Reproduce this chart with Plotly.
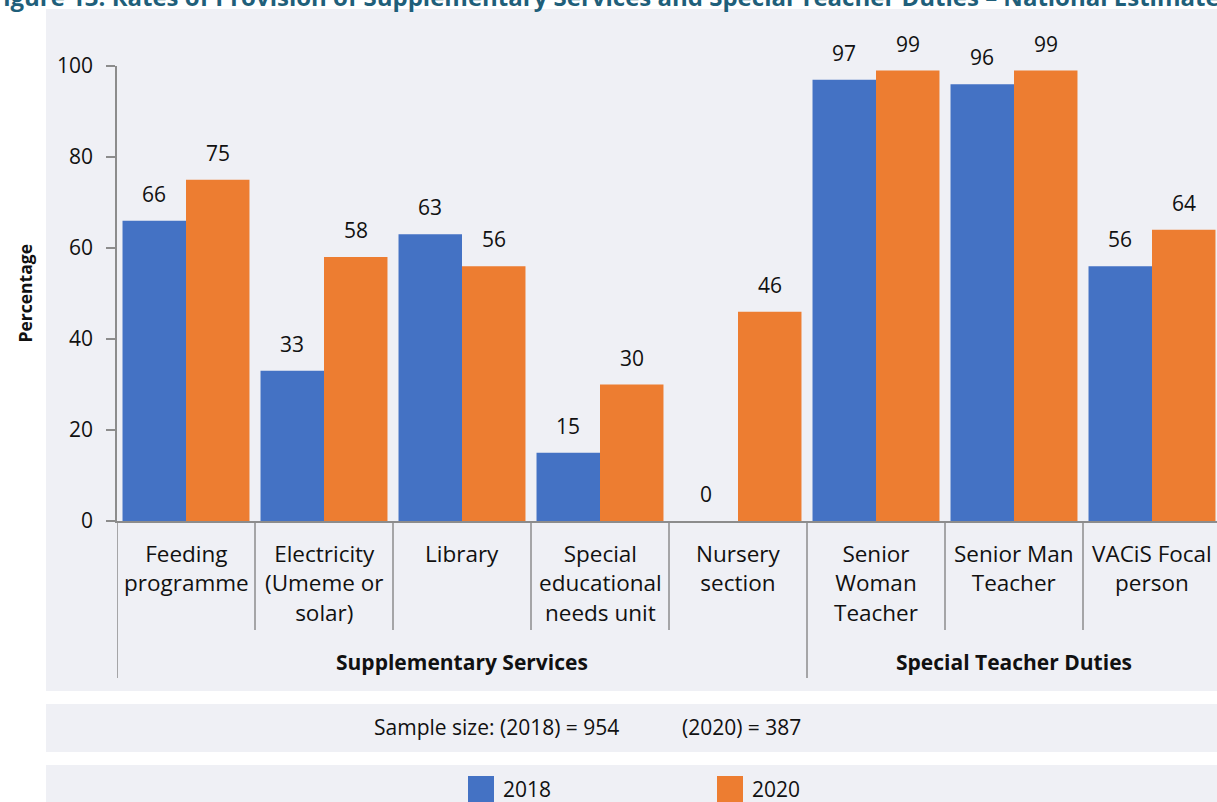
import plotly.graph_objects as go

# ---------------- data ----------------
categories = [
    "Feeding<br>programme",
    "Electricity<br>(Umeme or<br>solar)",
    "Library",
    "Special<br>educational<br>needs unit",
    "Nursery<br>section",
    "Senior<br>Woman<br>Teacher",
    "Senior Man<br>Teacher",
    "VACiS Focal<br>person",
]
groups = ["Supplementary Services", "Special Teacher Duties"]
group_sizes = [5, 3]
values_2018 = [66, 33, 63, 15, 0, 97, 96, 56]
values_2020 = [75, 58, 56, 30, 46, 99, 99, 64]
series_names = ["2018", "2020"]
title_text = ("Figure 13: Rates of Provision of Supplementary Services and Special "
              "Teacher Duties \u2013 National Estimates")
sample_2018 = "Sample size: (2018) = 954"
sample_2020 = "(2020) = 387"

# ---------------- style ----------------
BLUE = "#4472C4"
ORANGE = "#ED7D31"
PANEL = "#EFF0F5"
AXIS = "#8C8C8C"
FONT = "Open Sans"
W, H = 1217, 802
ML, MR, MT, MB = 117, 0, 66, 281
PW = W - ML - MR
PH = H - MT - MB


def px_x(px):
    return (px - ML) / PW


def px_y(py):
    return (H - MB - py) / PH


x_idx = list(range(len(categories)))
fig = go.Figure()
for name, vals, col in [(series_names[0], values_2018, BLUE), (series_names[1], values_2020, ORANGE)]:
    fig.add_trace(go.Bar(
        x=x_idx, y=vals, name=name, marker=dict(color=col, line=dict(width=0)),
        showlegend=False, hoverinfo="skip",
    ))

shapes = []
annotations = []

# background panels
for (y0, y1) in [(9, 691), (704, 752), (765, 802)]:
    shapes.append(dict(type="rect", xref="paper", yref="paper",
                       x0=px_x(46), x1=px_x(W + 5), y0=px_y(y1 + (5 if y1 == H else 0)), y1=px_y(y0),
                       fillcolor=PANEL, line=dict(width=0), layer="below"))

# category separators
bounds = []
start = 0
for g in group_sizes:
    bounds.append(start - 0.5)
    start += g
bounds.append(start - 0.5)
for i in range(1, len(categories)):
    b = i - 0.5
    if b in bounds:
        continue
    shapes.append(dict(type="line", xref="x", yref="paper", x0=b, x1=b,
                       y0=0, y1=px_y(630), line=dict(color=AXIS, width=1.5)))
for b in bounds:
    shapes.append(dict(type="line", xref="x", yref="paper", x0=b, x1=b,
                       y0=0, y1=px_y(678), line=dict(color=AXIS, width=1.5)))

# category labels
for i, c in enumerate(categories):
    annotations.append(dict(x=i, y=px_y(536), xref="x", yref="paper", text=c,
                            showarrow=False, yanchor="top", xanchor="center",
                            font=dict(family=FONT, size=22.5, color="#111111")))

# group labels
start = 0
for g, n in zip(groups, group_sizes):
    center = start + (n - 1) / 2
    annotations.append(dict(x=center, y=px_y(662), xref="x", yref="paper", text=f"<b>{g}</b>",
                            showarrow=False, yanchor="middle", xanchor="center",
                            font=dict(family=FONT, size=21, color="#111111")))
    start += n

# data labels
for i, (a, b) in enumerate(zip(values_2018, values_2020)):
    for v, sh in [(a, -31.75), (b, 31.75)]:
        annotations.append(dict(x=i, y=v, xref="x", yref="y", text=str(v), xshift=sh, yshift=27,
                                showarrow=False, yanchor="middle", xanchor="center",
                                font=dict(family=FONT, size=21, color="#111111")))

# y-axis title
annotations.append(dict(x=px_x(24), y=0.5, xref="paper", yref="paper", text="<b>Percentage</b>",
                        textangle=-90, showarrow=False, xanchor="center", yanchor="middle",
                        font=dict(family=FONT, size=17.5, color="#111111")))

# title (partially cut off at top)
annotations.append(dict(x=px_x(-12), y=px_y(-4), xref="paper", yref="paper", text=f"<b>{title_text}</b>",
                        showarrow=False, xanchor="left", yanchor="middle",
                        font=dict(family=FONT, size=24, color="#1F5F7A")))

# sample size
annotations.append(dict(x=px_x(372), y=px_y(727), xref="paper", yref="paper", text=sample_2018,
                        showarrow=False, xanchor="left", yanchor="middle",
                        font=dict(family=FONT, size=21, color="#111111")))
annotations.append(dict(x=px_x(680), y=px_y(727), xref="paper", yref="paper", text=sample_2020,
                        showarrow=False, xanchor="left", yanchor="middle",
                        font=dict(family=FONT, size=21, color="#111111")))

# manual legend
for name, col, lx in [(series_names[0], BLUE, 468), (series_names[1], ORANGE, 717)]:
    shapes.append(dict(type="rect", xref="paper", yref="paper",
                       x0=px_x(lx), x1=px_x(lx + 26), y0=px_y(806), y1=px_y(776),
                       fillcolor=col, line=dict(width=0)))
    annotations.append(dict(x=px_x(lx + 33), y=px_y(789), xref="paper", yref="paper", text=name,
                            showarrow=False, xanchor="left", yanchor="middle",
                            font=dict(family=FONT, size=21, color="#111111")))

fig.update_layout(
    width=W, height=H,
    margin=dict(l=ML, r=MR, t=MT, b=MB, pad=0),
    barmode="group", bargap=0.08, bargroupgap=0,
    plot_bgcolor="rgba(0,0,0,0)", paper_bgcolor="white",
    shapes=shapes, annotations=annotations,
    font=dict(family=FONT, color="#111111"),
    xaxis=dict(range=[-0.5, len(categories) - 0.5 - 4 / 138], showticklabels=False, ticks="",
               showgrid=False, zeroline=False, showline=True, linecolor=AXIS, linewidth=1.5,
               fixedrange=True),
    yaxis=dict(range=[0, 100], dtick=20, showgrid=False, zeroline=False, showline=True,
               linecolor=AXIS, linewidth=1.5, ticks="outside", ticklen=9, tickwidth=1.5,
               tickcolor=AXIS, tickfont=dict(family=FONT, size=21, color="#111111"),
               ticklabelstandoff=9, fixedrange=True),
)

fig.write_html(
    "out.html",
    config={"displayModeBar": False},
    post_script="document.body.style.margin='0';document.body.style.padding='0';"
                "document.body.style.overflow='hidden';",
)
